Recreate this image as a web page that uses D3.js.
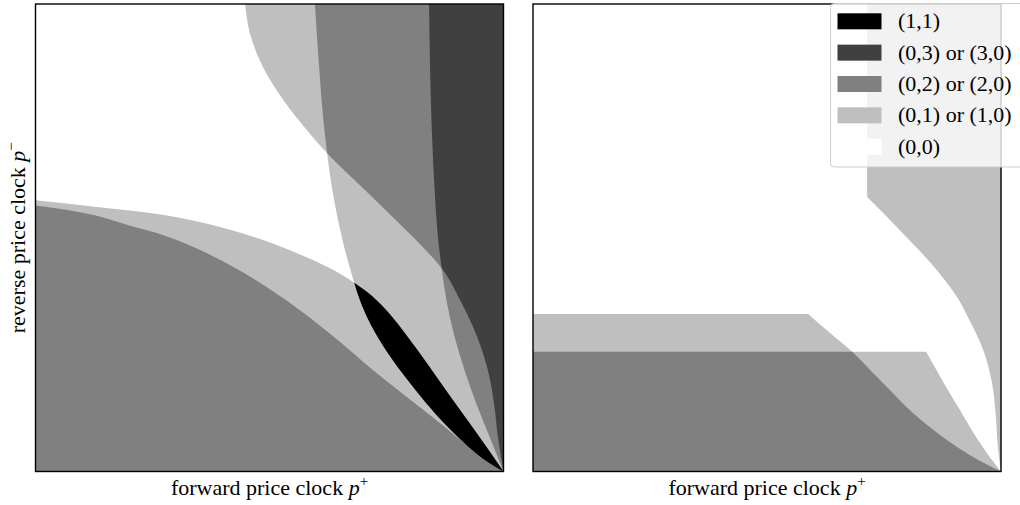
<!DOCTYPE html>
<html>
<head>
<meta charset="utf-8">
<script src="https://cdn.jsdelivr.net/npm/d3@7"></script>
<style>
  body { margin: 0; background: #fff; }
  text { font-family: "Liberation Serif", "Times New Roman", serif; fill: #000; }
</style>
</head>
<body>
<svg id="chart" width="1020" height="505"></svg>
<script>
// boundary curves, both axes in 0..1 (p+ right, p- up)

// left panel: lower family (regions under these curves)
const leftBandTop = [[0,0.580],[0.131,0.566],[0.272,0.549],[0.416,0.517],[0.559,0.467],[0.681,0.404],
  [0.721,0.374],[0.757,0.337],[0.794,0.290],[0.837,0.231],[0.879,0.171],[0.922,0.111],[0.965,0.051],[1,0]]
const leftBandLow = [[0,0.569],[0.131,0.547],[0.208,0.524],[0.272,0.506],[0.422,0.438],[0.565,0.345],
  [0.651,0.277],[0.721,0.217],[0.794,0.159],[0.864,0.104],[0.935,0.046],[1,0]]
// left panel: upper family (regions right of these curves)
const leftCurveC = [[0.448,1],[0.458,0.938],[0.486,0.865],[0.529,0.795],[0.580,0.730],[0.623,0.681],
  [0.700,0.606],[0.779,0.529],[0.826,0.482],[0.869,0.433],[0.909,0.363],[0.943,0.290],[0.967,0.215],
  [0.980,0.144],[0.988,0.074],[1,0]]
const leftCurveD = [[0.597,1],[0.606,0.865],[0.618,0.724],[0.638,0.581],[0.656,0.495],[0.681,0.404],
  [0.693,0.367],[0.719,0.309],[0.753,0.253],[0.790,0.202],[0.834,0.147],[0.881,0.095],[0.926,0.052],
  [0.967,0.020],[1,0]]
const leftCurveF = [[0.841,1],[0.843,0.865],[0.847,0.724],[0.854,0.581],[0.859,0.510],[0.868,0.433],
  [0.878,0.367],[0.896,0.286],[0.918,0.213],[0.943,0.142],[0.971,0.072],[1,0]]

// right panel
const rightBandTop = [[0,0.337],[0.588,0.337],[0.635,0.296],[0.682,0.256],[0.741,0.196],[0.812,0.125],
  [0.885,0.067],[0.934,0.035],[1,0]]
const rightBandLow = [[0,0.256],[0.840,0.256],[0.878,0.189],[0.912,0.132],[0.944,0.078],[0.976,0.031],[1,0]]
const rightCurve = [[0.714,1],[0.714,0.587],[0.786,0.514],[0.840,0.457],[0.887,0.400],[0.908,0.370],
  [0.927,0.335],[0.962,0.260],[0.981,0.189],[0.989,0.117],[0.994,0.046],[1,0]]

const legendLabels = ["(1,1)", "(0,3) or (3,0)", "(0,2) or (2,0)", "(0,1) or (1,0)", "(0,0)"]
const legendColors = ["#000000", "#404040", "#808080", "#bfbfbf", "#ffffff"]

const xLabel = "forward price clock "
const yLabel = "reverse price clock "

const light = "#bfbfbf", mid = "#808080", dark = "#404040", black = "#000000"

const svg = d3.select("#chart")
const defs = svg.append("defs")

const size = {w: 468, h: 467.5, top: 4}

function Panel(left, name) {
  const x = d3.scaleLinear().domain([0, 1]).range([left, left + size.w])
  const y = d3.scaleLinear().domain([0, 1]).range([size.top + size.h, size.top])
  const g = svg.append("g").attr("class", "panel-" + name)

  // closed region: optional straight lead-in, smooth boundary, then corners back
  function region(pts, corners, curve, straightLead) {
    const line = d3.line().x(d => x(d[0])).y(d => y(d[1])).curve(curve)
    let s
    if (straightLead) {
      s = `M${x(pts[0][0])},${y(pts[0][1])}` + line(pts.slice(1)).replace(/^M/, "L")
    } else {
      s = line(pts)
    }
    corners.forEach(c => { s += `L${x(c[0])},${y(c[1])}` })
    return s + "Z"
  }

  function clip(id, d) {
    defs.append("clipPath").attr("id", name + id).append("path").attr("d", d)
    return `url(#${name + id})`
  }

  function frame() {
    g.append("rect")
      .attr("x", x(0)).attr("y", y(1))
      .attr("width", x(1) - x(0)).attr("height", y(0) - y(1))
      .attr("fill", "none").attr("stroke", "#000").attr("stroke-width", 1.4)

    const t = g.append("text")
      .attr("x", (x(0) + x(1)) / 2).attr("y", 495)
      .attr("text-anchor", "middle").style("font-size", "22px")
    t.append("tspan").text(xLabel)
    t.append("tspan").style("font-style", "italic").text("p")
    t.append("tspan").attr("dy", -9).style("font-size", "15px").text("+")
  }

  return {x, y, g, region, clip, frame}
}

const byX = d3.curveMonotoneX, byY = d3.curveMonotoneY

// ---- left panel
const L = Panel(35.5, "left")
const dA = L.region(leftBandTop, [[0, 0]], byX)
const dB = L.region(leftBandLow, [[0, 0]], byX)
const dC = L.region(leftCurveC, [[1, 1]], byY)
const dD = L.region(leftCurveD, [[1, 1]], byY)
const dF = L.region(leftCurveF, [[1, 1]], byY)
const clipD = L.clip("D", dD)
const clipF = L.clip("F", dF)

;[dA, dC, dD, dF].forEach(d => L.g.append("path").attr("d", d).attr("fill", light))
L.g.append("path").attr("d", dB).attr("fill", mid)
L.g.append("path").attr("d", dC).attr("fill", mid).attr("clip-path", clipD)
L.g.append("path").attr("d", dC).attr("fill", mid).attr("clip-path", clipF)
L.g.append("path").attr("d", dD).attr("fill", mid).attr("clip-path", clipF)
L.g.append("g").attr("clip-path", clipF)
  .append("path").attr("d", dC).attr("fill", dark).attr("clip-path", clipD)
L.g.append("path").attr("d", dA).attr("fill", black).attr("clip-path", clipD)
L.frame()

const yl = svg.append("text")
  .attr("transform", `translate(25,${(L.y(0) + L.y(1)) / 2}) rotate(-90)`)
  .attr("text-anchor", "middle").style("font-size", "22px")
yl.append("tspan").text(yLabel)
yl.append("tspan").style("font-style", "italic").text("p")
yl.append("tspan").attr("dy", -9).style("font-size", "15px").text("\u2212")

// ---- right panel
const R = Panel(533, "right")
const rA = R.region(rightBandTop, [[0, 0]], byX, true)
const rB = R.region(rightBandLow, [[0, 0]], byX, true)
const rC = R.region(rightCurve, [[1, 1]], byY, true)
const clipRA = R.clip("A", rA)
;[rA, rB, rC].forEach(d => R.g.append("path").attr("d", d).attr("fill", light))
R.g.append("path").attr("d", rB).attr("fill", mid).attr("clip-path", clipRA)
R.frame()

// ---- legend (semi-transparent, hangs off the right edge)
const leg = svg.append("g").attr("class", "legend")
leg.append("rect")
  .attr("x", 830.5).attr("y", 3.5).attr("width", 200).attr("height", 163.5).attr("rx", 4)
  .attr("fill", "#fff").attr("fill-opacity", 0.8)
  .attr("stroke", "#cccccc").attr("stroke-width", 1)

const rowY = d3.scaleLinear().domain([0, legendLabels.length - 1]).range([21.3, 146.7])
legendLabels.forEach((lab, i) => {
  leg.append("rect")
    .attr("x", 837.5).attr("y", rowY(i) - 8).attr("width", 44).attr("height", 16)
    .attr("fill", legendColors[i])
  leg.append("text")
    .attr("x", 898).attr("y", rowY(i) + 7)
    .style("font-size", "22px")
    .text(lab)
})
</script>
</body>
</html>
